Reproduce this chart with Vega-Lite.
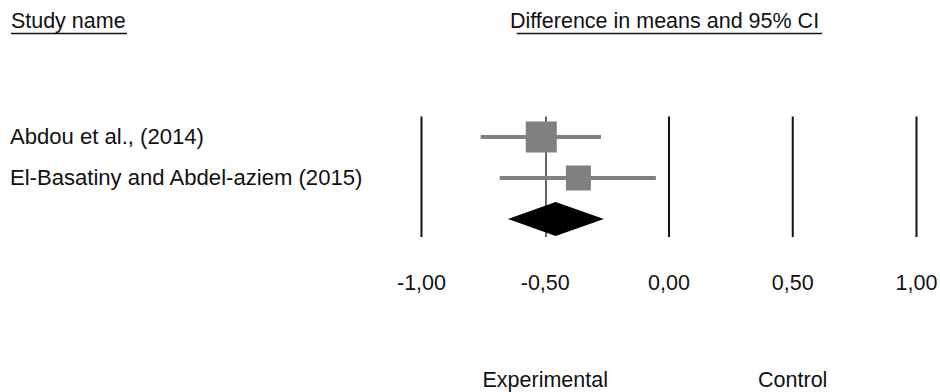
{
  "$schema": "https://vega.github.io/schema/vega-lite/v6.json",
  "width": 940,
  "height": 392,
  "padding": 0,
  "autosize": {"type": "fit", "contains": "padding"},
  "config": {
    "view": {"stroke": null},
    "text": {"font": "Liberation Sans", "fontSize": 21.5, "color": "#111111"}
  },
  "datasets": {
    "studies": [
      {"study": "Abdou et al., (2014)", "row": 1, "mean": -0.516, "lower": -0.761, "upper": -0.275, "weight": 60.6},
      {"study": "El-Basatiny and Abdel-aziem (2015)", "row": 2, "mean": -0.366, "lower": -0.684, "upper": -0.053, "weight": 39.4}
    ],
    "summary": [
      {"x": -0.651, "top": 3, "bottom": 3},
      {"x": -0.458, "top": 2.585, "bottom": 3.415},
      {"x": -0.263, "top": 3, "bottom": 3}
    ],
    "refs": [{"value": -1}, {"value": 0}, {"value": 0.5}, {"value": 1}],
    "ticks": [
      {"value": -1, "label": "-1,00"},
      {"value": -0.5, "label": "-0,50"},
      {"value": 0, "label": "0,00"},
      {"value": 0.5, "label": "0,50"},
      {"value": 1, "label": "1,00"}
    ],
    "sides": [
      {"value": -0.5, "label": "Experimental"},
      {"value": 0.5, "label": "Control"}
    ]
  },
  "layer": [
    {
      "data": {"name": "refs"},
      "mark": {"type": "rule", "color": "#111111", "strokeWidth": 2},
      "encoding": {
        "x": {"field": "value", "type": "quantitative", "scale": {"domain": [-2.703, 1.095], "nice": false, "zero": false}, "axis": null},
        "y": {"datum": 0.5, "type": "quantitative", "scale": {"domain": [-2.341, 7.22], "nice": false, "zero": false, "reverse": true}, "axis": null},
        "y2": {"datum": 3.44}
      }
    },
    {
      "data": {"values": [{"value": -0.497}]},
      "mark": {"type": "rule", "color": "#111111", "strokeWidth": 1.3},
      "encoding": {
        "x": {"field": "value", "type": "quantitative"},
        "y": {"datum": 0.5, "type": "quantitative"},
        "y2": {"datum": 3.44}
      }
    },
    {
      "data": {"name": "studies"},
      "mark": {"type": "rule", "color": "#808080", "strokeWidth": 4},
      "encoding": {
        "x": {"field": "lower", "type": "quantitative"},
        "x2": {"field": "upper"},
        "y": {"field": "row", "type": "quantitative"}
      }
    },
    {
      "data": {"name": "studies"},
      "mark": {"type": "point", "shape": "square", "filled": true, "color": "#808080", "opacity": 1, "strokeWidth": 0},
      "encoding": {
        "x": {"field": "mean", "type": "quantitative"},
        "y": {"field": "row", "type": "quantitative"},
        "size": {"field": "weight", "type": "quantitative", "scale": {"domain": [0, 100], "range": [0, 1586], "zero": true}, "legend": null}
      }
    },
    {
      "data": {"name": "summary"},
      "mark": {"type": "area", "color": "#000000", "opacity": 1},
      "encoding": {
        "x": {"field": "x", "type": "quantitative"},
        "y": {"field": "top", "type": "quantitative"},
        "y2": {"field": "bottom"}
      }
    },
    {
      "data": {"name": "studies"},
      "mark": {"type": "text", "align": "left", "baseline": "alphabetic", "dy": 7.5, "fontSize": 22.1},
      "encoding": {
        "x": {"datum": -2.663, "type": "quantitative"},
        "y": {"field": "row", "type": "quantitative"},
        "text": {"field": "study"}
      }
    },
    {
      "data": {"name": "ticks"},
      "mark": {"type": "text", "align": "center", "baseline": "alphabetic"},
      "encoding": {
        "x": {"field": "value", "type": "quantitative"},
        "y": {"datum": 4.74, "type": "quantitative"},
        "text": {"field": "label"}
      }
    },
    {
      "data": {"name": "sides"},
      "mark": {"type": "text", "align": "center", "baseline": "alphabetic"},
      "encoding": {
        "x": {"field": "value", "type": "quantitative"},
        "y": {"datum": 7.09, "type": "quantitative"},
        "text": {"field": "label"}
      }
    },
    {
      "data": {"values": [{"label": "Study name"}]},
      "mark": {"type": "text", "align": "left", "baseline": "alphabetic"},
      "encoding": {
        "x": {"datum": -2.659, "type": "quantitative"},
        "y": {"datum": -1.658, "type": "quantitative"},
        "text": {"field": "label"}
      }
    },
    {
      "data": {"values": [{"label": "Difference in means and 95% CI"}]},
      "mark": {"type": "text", "align": "center", "baseline": "alphabetic"},
      "encoding": {
        "x": {"datum": -0.018, "type": "quantitative"},
        "y": {"datum": -1.658, "type": "quantitative"},
        "text": {"field": "label"}
      }
    },
    {
      "data": {"values": [{"start": -2.659, "end": -2.19}, {"start": -0.615, "end": 0.619}]},
      "mark": {"type": "rule", "color": "#111111", "strokeWidth": 1.5},
      "encoding": {
        "x": {"field": "start", "type": "quantitative"},
        "x2": {"field": "end"},
        "y": {"datum": -1.524, "type": "quantitative"}
      }
    }
  ]
}
